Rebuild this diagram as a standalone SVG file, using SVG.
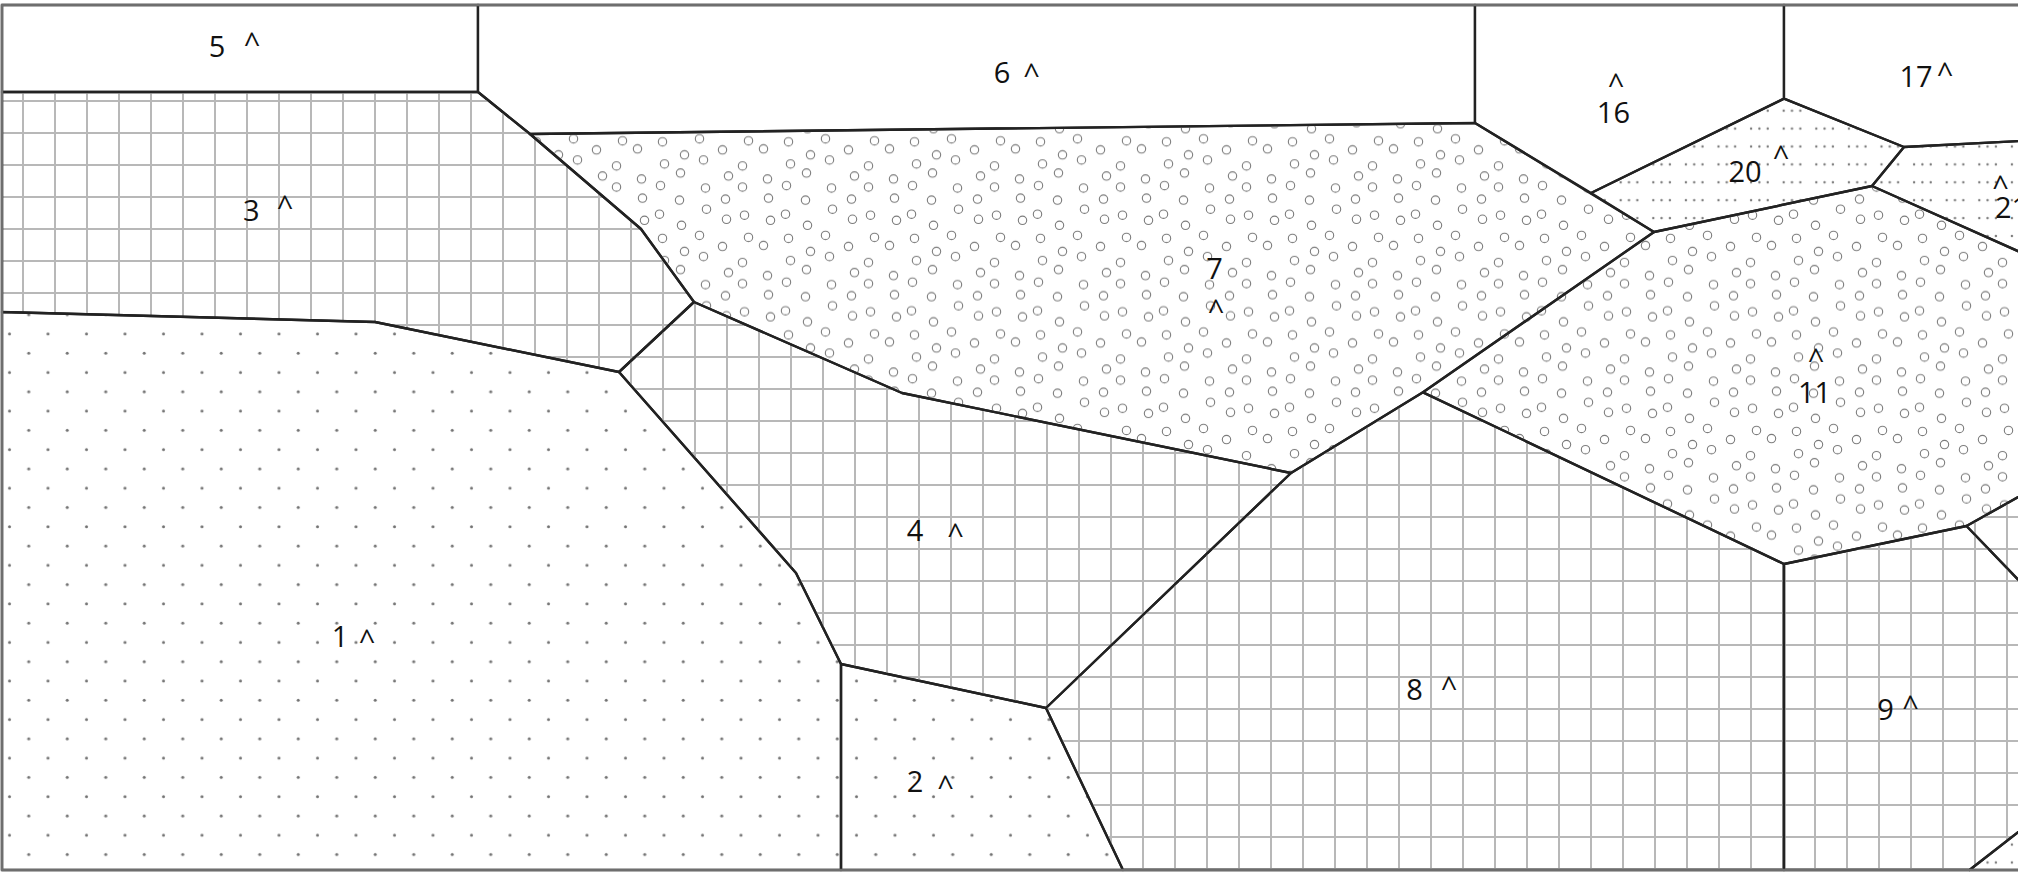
<svg xmlns="http://www.w3.org/2000/svg" width="2018" height="874" viewBox="0 0 2018 874">
<style>
.b{stroke:#222;stroke-width:2.4;stroke-linejoin:round}
.grid{fill:url(#grid)}
.dots{fill:url(#dots)}
.circ{fill:url(#circ)}
.dash{fill:url(#dash)}
.plain{fill:#fff}
.n{font-family:"Open Sans","Noto Sans",sans-serif;font-size:29px;fill:#111;text-anchor:middle}
</style>
<defs>
<pattern id="grid" patternUnits="userSpaceOnUse" x="7" y="-11" width="32" height="32">
<rect x="15" y="0" width="2" height="32" fill="#b8b8b8"/>
<rect x="0" y="15" width="32" height="2" fill="#b8b8b8"/>
</pattern>
<pattern id="dots" patternUnits="userSpaceOnUse" x="0" y="0" width="38.5" height="38.56">
<circle cx="9.5" cy="25.4" r="1.5" fill="#737373"/>
<circle cx="28.75" cy="6.1" r="1.5" fill="#737373"/>
</pattern>
<pattern id="dash" patternUnits="userSpaceOnUse" x="1651.3" y="108.7" width="32.6" height="17.9">
<circle cx="2" cy="2" r="1.2" fill="#7a7a7a"/>
<circle cx="10.3" cy="2" r="1.2" fill="#7a7a7a"/>
<circle cx="18.6" cy="2" r="1.2" fill="#7a7a7a"/>
</pattern>
<pattern id="circ" patternUnits="userSpaceOnUse" x="0" y="0" width="126" height="96.56">
<g fill="none" stroke="#7a7a7a" stroke-width="1.1">
<circle cx="12.5" cy="5.03" r="4.2"/><circle cx="49.5" cy="7.03" r="4.2"/><circle cx="95.5" cy="6.03" r="4.2"/>
<circle cx="29.5" cy="21.1" r="4.2"/><circle cx="76.5" cy="16.1" r="4.2"/><circle cx="114.5" cy="22.1" r="4.2"/>
<circle cx="14.5" cy="27.17" r="4.2"/><circle cx="51.5" cy="32.17" r="4.2"/><circle cx="96.5" cy="26.17" r="4.2"/>
<circle cx="32.5" cy="45.24" r="4.2"/><circle cx="69.5" cy="42.24" r="4.2"/><circle cx="118.5" cy="44.24" r="4.2"/>
<circle cx="7.5" cy="52.31" r="4.2"/><circle cx="54.5" cy="58.31" r="4.2"/><circle cx="92.5" cy="53.31" r="4.2"/>
<circle cx="34.5" cy="67.38" r="4.2"/><circle cx="73.5" cy="63.38" r="4.2"/><circle cx="112.5" cy="69.38" r="4.2"/>
<circle cx="11.5" cy="82.45" r="4.2"/><circle cx="50.5" cy="76.45" r="4.2"/><circle cx="98.5" cy="79.45" r="4.2"/>
<circle cx="30.5" cy="89.02" r="4.2"/><circle cx="75.5" cy="91.52" r="4.2"/><circle cx="112.5" cy="90.52" r="4.2"/>
</g>
</pattern>
</defs>
<rect x="0" y="0" width="2018" height="874" fill="#fff"/>

<g id="region-5">
<polygon class="plain b" points="2,5 478,5 478,92 2,92"/>
<text class="n" x="217" y="56.7">5</text><text class="n" x="252" y="54">^</text>
</g>
<g id="region-6">
<polygon class="plain b" points="478,5 1475,5 1475,123 530,134 478,92"/>
<text class="n" x="1002" y="82.7">6</text><text class="n" x="1031.5" y="85">^</text>
</g>
<g id="region-16">
<polygon class="plain b" points="1475,5 1784,5 1784,98.7 1591,193 1475,123"/>
<text class="n" x="1613.4" y="122.5">16</text><text class="n" x="1616" y="94.6">^</text>
</g>
<g id="region-17">
<polygon class="plain b" points="1784,5 2030,5 2030,140.5 1904,147 1784,98.7"/>
<text class="n" x="1916" y="86.7">17</text><text class="n" x="1945" y="84">^</text>
</g>
<g id="region-3">
<polygon class="grid b" points="2,92 478,92 530,134 641,229 694,302 619,372 375,322 2,312"/>
<text class="n" x="251.3" y="220.7">3</text><text class="n" x="285" y="217.4">^</text>
</g>
<g id="region-1">
<polygon class="dots b" points="2,312 375,322 619,372 796,573 841,664 841,870 2,870"/>
<text class="n" x="340" y="646.7">1</text><text class="n" x="367" y="650.7">^</text>
</g>
<g id="region-2">
<polygon class="dots b" points="841,664 1046,708 1123,870 841,870"/>
<text class="n" x="915" y="791.7">2</text><text class="n" x="945.5" y="797.4">^</text>
</g>
<g id="region-4">
<polygon class="grid b" points="619,372 694,302 902,393 1291,473 1046,708 841,664 796,573"/>
<text class="n" x="915" y="541">4</text><text class="n" x="955.6" y="544.7">^</text>
</g>
<g id="region-7">
<polygon class="circ b" points="530,134 1475,123 1654,232 1423,392.3 1291,473 902,393 694,302 641,229"/>
<text class="n" x="1214.6" y="279.3">7</text><text class="n" x="1216" y="320.7">^</text>
</g>
<g id="region-8">
<polygon class="grid b" points="1291,473 1423,392.3 1784,564 1784,870 1123,870 1046,708"/>
<text class="n" x="1414.5" y="700">8</text><text class="n" x="1449" y="698.4">^</text>
</g>
<g id="region-20">
<polygon class="dash b" points="1591,193 1784,98.7 1904,147 1872,186 1654,232"/>
<text class="n" x="1745" y="182.3">20</text><text class="n" x="1781" y="167.4">^</text>
</g>
<g id="region-21">
<polygon class="dash b" points="1872,186 1904,147 2030,140.5 2030,256.5"/>
<text class="n" x="1995" y="218.3" style="text-anchor:start">21</text><text class="n" x="2000.5" y="197.4">^</text>
</g>
<g id="region-11">
<polygon class="circ b" points="1654,232 1872,186 2030,256.5 2030,490.5 1966.5,526 1784,564 1423,392.3"/>
<text class="n" x="1814.5" y="403">11</text><text class="n" x="1816" y="369.7">^</text>
</g>
<g id="region-10">
<polygon class="grid b" points="1966.5,526 2030,490.5 2030,592"/>
</g>
<g id="region-9">
<polygon class="grid b" points="1784,564 1966.5,526 2030,592 2030,823 1969.5,870 1784,870"/>
<text class="n" x="1885.5" y="720">9</text><text class="n" x="1910.5" y="717.4">^</text>
</g>
<g id="region-corner">
<polygon class="dash b" points="1969.5,870 2030,823 2030,870"/>
</g>

<g id="connectors"></g>
<rect x="2" y="5" width="2040" height="865" fill="none" stroke="#6e6e6e" stroke-width="2.5"/>
</svg>
